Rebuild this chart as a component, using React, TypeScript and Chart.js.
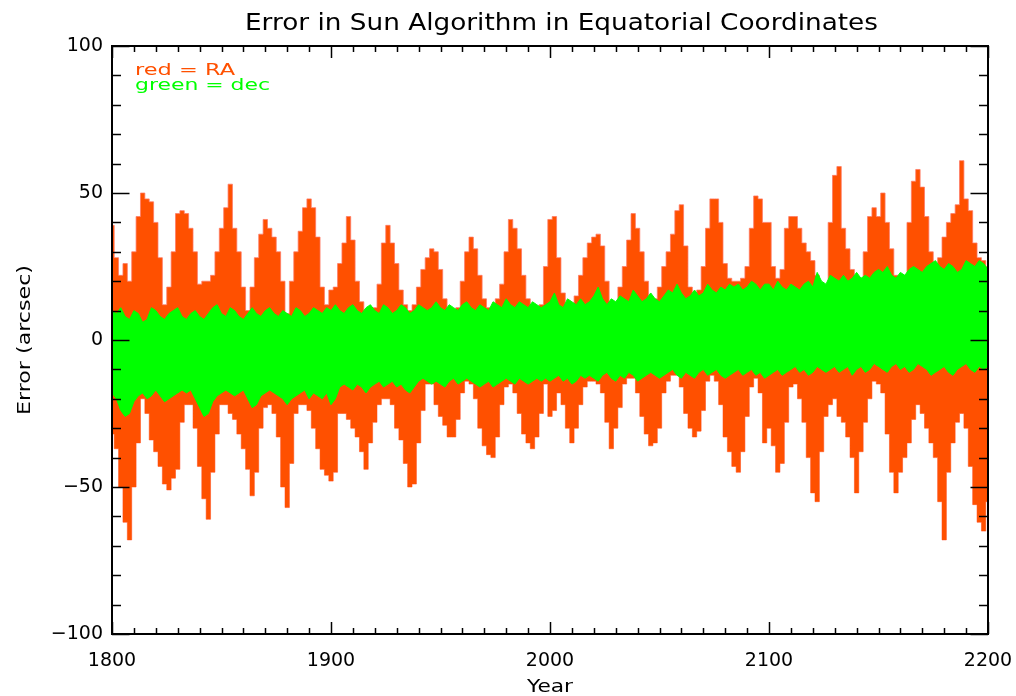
import React, { useEffect, useRef } from "react";
import { Chart, registerables } from "chart.js";

Chart.register(...registerables);

const TITLE = "Error in Sun Algorithm in Equatorial Coordinates";
const X_TITLE = "Year";
const Y_TITLE = "Error (arcsec)";
const LEGEND_RA = "red = RA";
const LEGEND_DEC = "green = dec";

const X_TICKS = [1800, 1900, 2000, 2100, 2200];
const Y_TICKS = [-100, -50, 0, 50, 100];
const X_MINOR_STEP = 10;
const Y_MINOR_STEP = 10;

// sample years (every 2 years) at which the envelopes were read
const YEARS = Array.from({ length: 201 }, (_, i) => 1800 + 2 * i);

// RA error envelope (arcsec)
const RA_MAX = [
  39, 28, 22, 26, 20, 30, 42, 50, 48, 47, 40, 28, 12, 18, 30, 43, 44, 43, 38, 30,
  19, 20, 20, 22, 30, 38, 45, 53, 38, 30, 18, 10, 18, 28, 36, 41, 38, 35, 30, 20,
  9, 20, 30, 37, 45, 48, 45, 35, 18, 12,
  17, 18, 26, 33, 42, 34, 20, 13, 10, 9, 11, 19, 33, 39, 33, 26, 17, 12, 10, 12,
  18, 24, 28, 31, 30, 24, 14, 10, 9, 11, 20, 30, 35, 31, 22, 14, 11, 10, 14, 19,
  30, 41, 38, 31, 22, 14, 11, 10, 12, 25,
  41, 42, 28, 16, 12, 12, 15, 22, 28, 33, 35, 36, 32, 20, 13, 11, 18, 25, 34, 43,
  38, 30, 20, 12, 14, 18, 25, 30, 36, 44, 46, 32, 18, 14, 17, 25, 38, 48, 48, 40,
  26, 21, 20, 20, 21, 25, 38, 49, 48, 40,
  40, 25, 21, 24, 38, 42, 42, 38, 33, 30, 27, 22, 17, 17, 40, 56, 59, 38, 31, 24,
  18, 20, 30, 42, 45, 42, 50, 40, 31, 22, 20, 22, 40, 54, 58, 52, 42, 30, 25, 28,
  35, 40, 43, 46, 61, 48, 44, 33, 28, 27, 25,
];
const RA_MIN = [
  -32, -37, -50, -62, -68, -50, -35, -20, -25, -34, -38, -43, -49, -51, -47, -44, -28, -22, -22, -30,
  -43, -54, -61, -45, -32, -22, -22, -25, -27, -32, -37, -44, -53, -45, -30, -23, -22, -25, -33, -50,
  -57, -42, -25, -22, -22, -24, -30, -37, -44, -46,
  -48, -45, -25, -25, -27, -30, -33, -38, -44, -35, -28, -22, -20, -20, -22, -30, -34, -42, -50, -49,
  -35, -24, -15, -15, -22, -26, -29, -33, -33, -27, -18, -14, -15, -20, -30, -36, -39, -40, -33, -22,
  -16, -15, -18, -25, -32, -35, -37, -33, -25, -15,
  -26, -24, -18, -22, -30, -35, -30, -22, -16, -14, -14, -15, -18, -28, -37, -30, -23, -15, -13, -13,
  -18, -26, -32, -36, -35, -30, -18, -14, -12, -12, -16, -25, -30, -33, -31, -24, -14, -12, -14, -22,
  -33, -38, -43, -45, -38, -26, -16, -13, -18, -35,
  -30, -36, -45, -42, -28, -16, -15, -20, -28, -40, -52, -55, -38, -26, -22, -20, -26, -28, -33, -40,
  -52, -38, -28, -20, -14, -15, -18, -32, -45, -52, -45, -40, -35, -27, -22, -25, -30, -35, -40, -55,
  -68, -45, -35, -28, -25, -30, -43, -56, -62, -65, -55,
];

// Dec error envelope (arcsec)
const DEC_MAX = [
  10, 9, 11, 8, 7, 10, 9, 6, 7, 11, 10, 8, 7, 9, 10, 11, 8, 7, 9, 10,
  8, 7, 9, 11, 12, 9, 8, 11, 10, 8, 7, 9, 11, 9, 8, 10, 11, 9, 8, 10,
  9, 8, 11, 10, 8, 9, 11, 10, 9, 11,
  10, 12, 10, 9, 11, 12, 10, 9, 11, 12, 10, 9, 12, 11, 9, 10, 12, 11, 9, 10,
  12, 11, 10, 11, 13, 11, 10, 12, 11, 10, 12, 13, 11, 10, 12, 11, 10, 13, 12, 11,
  14, 12, 11, 13, 12, 11, 13, 12, 11, 12,
  13, 16, 12, 11, 14, 13, 12, 14, 12, 13, 15, 18, 14, 12, 14, 13, 15, 14, 13, 17,
  15, 13, 14, 16, 14, 13, 15, 17, 16, 19, 16, 14, 15, 17, 15, 16, 19, 17, 16, 18,
  17, 19, 18, 19, 17, 18, 20, 19, 17, 19,
  19, 17, 20, 18, 17, 19, 18, 17, 19, 20, 18, 23, 20, 19, 22, 21, 20, 22, 20, 21,
  23, 21, 22, 21, 23, 24, 23, 25, 22, 21, 23, 22, 24, 25, 24, 23, 25, 26, 27, 25,
  24, 26, 25, 23, 24, 27, 26, 25, 27, 26, 24,
];
const DEC_MIN = [
  -18, -20, -24, -26, -25, -21, -19, -18, -20, -19, -17, -19, -21, -20, -19, -18, -17, -18, -17, -20,
  -23, -26, -25, -21, -19, -18, -17, -18, -19, -18, -17, -20, -23, -22, -19, -18, -17, -18, -19, -20,
  -22, -20, -19, -18, -17, -20, -18, -19, -20, -18,
  -22, -20, -16, -15, -16, -17, -15, -16, -18, -16, -15, -14, -16, -15, -14, -16, -15, -17, -18, -16,
  -14, -13, -14, -15, -14, -15, -16, -14, -13, -15, -14, -13, -14, -15, -16, -15, -14, -16, -15, -14,
  -13, -14, -15, -13, -14, -15, -14, -13, -14, -13,
  -14, -13, -12, -14, -13, -15, -14, -12, -13, -12, -13, -14, -12, -11, -13, -14, -12, -13, -11, -12,
  -14, -13, -12, -11, -12, -13, -12, -11, -10, -12, -13, -11, -12, -13, -11, -10, -12, -11, -10, -12,
  -13, -12, -11, -10, -12, -11, -10, -12, -11, -13,
  -12, -11, -10, -12, -11, -10, -9, -11, -10, -12, -11, -9, -10, -11, -10, -9, -11, -10, -9, -12,
  -10, -9, -11, -10, -8, -9, -10, -11, -9, -8, -10, -9, -11, -10, -8, -9, -10, -12, -11, -10,
  -9, -11, -12, -10, -9, -8, -10, -11, -9, -10, -9,
];

const RED = "#ff5000";
const RED_EDGE = "rgba(255,120,100,0.75)";
const GREEN = "#00ff00";
const FONT = "DejaVu Sans";

function stretchText(
  ctx: CanvasRenderingContext2D,
  text: string,
  left: number,
  baseline: number,
  width: number,
  size: number,
  color: string
) {
  ctx.save();
  ctx.font = `${size}px "${FONT}"`;
  ctx.fillStyle = color;
  ctx.textAlign = "left";
  ctx.textBaseline = "alphabetic";
  const m = ctx.measureText(text).width;
  ctx.translate(left, baseline);
  ctx.scale(width / m, 1);
  ctx.fillText(text, 0, 0);
  ctx.restore();
}

const idlBox = {
  id: "idlBox",
  afterDraw(chart: any) {
    const { ctx, chartArea: a, scales } = chart;
    const x = scales.x;
    const y = scales.y;
    ctx.save();
    ctx.strokeStyle = "#000";
    ctx.lineWidth = 1.5;
    const seg = (x1: number, y1: number, x2: number, y2: number) => {
      ctx.beginPath();
      ctx.moveTo(x1, y1);
      ctx.lineTo(x2, y2);
      ctx.stroke();
    };
    const xMin = X_TICKS[0];
    const xMax = X_TICKS[X_TICKS.length - 1];
    for (let v = xMin; v <= xMax; v += X_MINOR_STEP) {
      const px = Math.round(x.getPixelForValue(v)) + 0.5;
      const major = X_TICKS.includes(v);
      const len = major ? 12 : 6;
      seg(px, a.bottom, px, a.bottom - len);
      seg(px, a.top, px, a.top + len);
    }
    const yMin = Y_TICKS[0];
    const yMax = Y_TICKS[Y_TICKS.length - 1];
    for (let v = yMin; v <= yMax; v += Y_MINOR_STEP) {
      const py = Math.round(y.getPixelForValue(v)) + 0.5;
      const major = Y_TICKS.includes(v);
      const len = major ? 17.5 : 9;
      seg(a.left, py, a.left + len, py);
      seg(a.right, py, a.right - len, py);
    }
    ctx.lineWidth = 2;
    ctx.strokeRect(a.left, a.top, a.right - a.left, a.bottom - a.top);

    stretchText(ctx, TITLE, 245, 30, 633, 23, "#000");
    stretchText(ctx, LEGEND_RA, 135, 75, 100, 16, RED);
    stretchText(ctx, LEGEND_DEC, 135, 90, 135, 16, GREEN);
    stretchText(ctx, X_TITLE, 527, 692, 46, 17, "#000");
    ctx.save();
    ctx.translate(30, 415);
    ctx.rotate(-Math.PI / 2);
    stretchText(ctx, Y_TITLE, 0, 0, 150, 18, "#000");
    ctx.restore();

    ctx.restore();
  },
};

export default function App() {
  const ref = useRef<HTMLCanvasElement | null>(null);

  useEffect(() => {
    document.body.style.margin = "0";
    const canvas = ref.current;
    if (!canvas) return;
    const toXY = (arr: number[]) => arr.map((v, i) => ({ x: YEARS[i], y: v }));
    const common = { pointRadius: 0, tension: 0, borderWidth: 1 };
    const chart = new Chart(canvas, {
      type: "line",
      data: {
        datasets: [
          {
            ...common,
            label: "RA max",
            data: toXY(RA_MAX),
            fill: 1,
            stepped: "middle",
            backgroundColor: RED,
            borderColor: RED_EDGE,
            order: 2,
          },
          {
            ...common,
            label: "RA min",
            data: toXY(RA_MIN),
            fill: false,
            stepped: "middle",
            borderColor: RED_EDGE,
            order: 2,
          },
          {
            ...common,
            label: "dec max",
            data: toXY(DEC_MAX),
            fill: 3,
            backgroundColor: GREEN,
            borderColor: GREEN,
            order: 1,
          },
          {
            ...common,
            label: "dec min",
            data: toXY(DEC_MIN),
            fill: false,
            borderColor: GREEN,
            order: 1,
          },
        ] as any,
      },
      options: {
        responsive: false,
        animation: false,
        devicePixelRatio: 1,
        layout: { padding: { left: 0, right: 28, top: 46, bottom: 0 } },
        plugins: {
          legend: { display: false },
          title: { display: false },
          tooltip: { enabled: false },
        },
        scales: {
          x: {
            type: "linear",
            min: X_TICKS[0],
            max: X_TICKS[X_TICKS.length - 1],
            afterBuildTicks: (s: any) => {
              s.ticks = X_TICKS.map((v) => ({ value: v }));
            },
            afterFit: (s: any) => {
              s.height = 62;
              s.paddingLeft = 0;
              s.paddingRight = 0;
            },
            grid: { display: false, drawTicks: false },
            border: { display: false },
            ticks: {
              color: "#000",
              font: { family: FONT, size: 19 },
              padding: 16,
              maxRotation: 0,
              autoSkip: false,
              callback: (v: any) => String(v),
            },
          },
          y: {
            type: "linear",
            min: Y_TICKS[0],
            max: Y_TICKS[Y_TICKS.length - 1],
            afterBuildTicks: (s: any) => {
              s.ticks = Y_TICKS.map((v) => ({ value: v }));
            },
            afterFit: (s: any) => {
              s.width = 112;
              s.paddingTop = 0;
              s.paddingBottom = 0;
            },
            grid: { display: false, drawTicks: false },
            border: { display: false },
            ticks: {
              color: "#000",
              font: { family: FONT, size: 19 },
              padding: 9,
              callback: (v: any) =>
                Number(v) < 0 ? "\u2212" + Math.abs(Number(v)) : String(v),
            },
          },
        },
      } as any,
      plugins: [idlBox],
    });
    return () => chart.destroy();
  }, []);

  return (
    <canvas
      ref={ref}
      width={1016}
      height={696}
      style={{ display: "block", width: 1016, height: 696 }}
    />
  );
}
